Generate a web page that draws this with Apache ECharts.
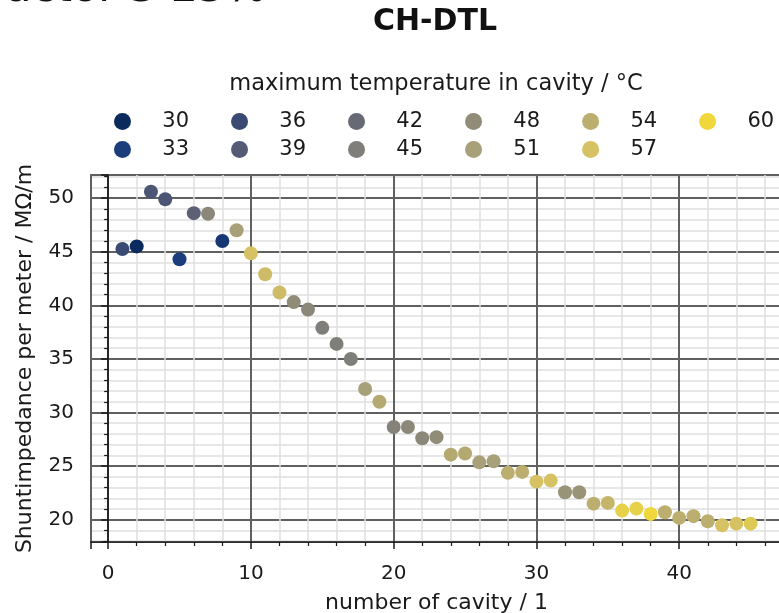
<!DOCTYPE html>
<html>
<head>
    <meta charset="utf-8">
    <title>CH-DTL</title>
    <script src="https://cdn.jsdelivr.net/npm/echarts@6/dist/echarts.min.js"></script>
    <style>
        html, body { margin: 0; padding: 0; background: #fff; }
    </style>
</head>
<body>
    <div id="main" style="width: 779px;height:613px;"></div>

    <script type="text/javascript">
// cavity number, shunt impedance (MOhm/m), max temperature (deg C)
var cavity = [1,2,3,4,5,6,7,8,9,10,11,12,13,14,15,16,17,18,19,20,21,22,23,24,25,26,27,28,29,30,31,32,33,34,35,36,37,38,39,40,41,42,43,44,45];
var impedance = [45.25,45.5,50.6,49.9,44.3,48.6,48.55,46.0,47.0,44.85,42.9,41.2,40.3,39.6,37.9,36.4,35.0,32.2,31.0,28.65,28.65,27.6,27.7,26.07,26.17,25.35,25.45,24.37,24.46,23.55,23.65,22.56,22.56,21.5,21.57,20.85,21.03,20.54,20.69,20.17,20.33,19.85,19.48,19.63,19.63];
var temperature = [36,30,38,38,33,40,47,32,51,57,56,56,48,47,45,45,45,51,53,46,47,47,48,53,53,51,51,54,54,57,57,49,49,54,55,59,59,60,54,54,54,54,57,57,58];

// legend entries (two rows, like the figure)
var legendRow1 = ['30','36','42','48','54','60'];
var legendRow2 = ['33','39','45','51','57'];
var legendTemps = [30,33,36,39,42,45,48,51,54,57,60];
var legendColors = ['#0b2a5e','#1b3d7b','#3b4a73','#555b74','#676a74','#7f7e7a','#918c78','#a8a079','#bcae6f','#d6c263','#f0d83c'];

var txt = '#1a1a1a';
var font = "'DejaVu Sans', sans-serif";

var points = [];
for (var i = 0; i < cavity.length; i++) {
    points.push([cavity[i], impedance[i], temperature[i]]);
}

var series = [{
    name: 'cavities',
    type: 'scatter',
    data: points,
    symbol: 'circle',
    symbolSize: 14,
    itemStyle: { opacity: 1 },
    z: 5
}];
for (var j = 0; j < legendTemps.length; j++) {
    series.push({
        name: String(legendTemps[j]),
        type: 'scatter',
        data: [],
        itemStyle: { color: legendColors[j], opacity: 1 }
    });
}

var legendBase = function (names, top) {
    return {
        data: names,
        orient: 'horizontal',
        left: 114,
        top: top,
        padding: 0,
        icon: 'circle',
        itemWidth: 69.6,
        itemHeight: 17,
        itemGap: 42,
        selectedMode: false,
        itemStyle: { opacity: 1 },
        textStyle: { color: txt, fontSize: 21, fontFamily: font, lineHeight: 21 }
    };
};

var chart = echarts.init(document.getElementById('main'));
chart.setOption({
    backgroundColor: '#ffffff',
    animation: false,
    graphic: [
        {
            type: 'text', x: -10, y: -10,
            style: { text: 'factor 5 25%', font: "43px 'DejaVu Sans'", fill: '#111', align: 'left', verticalAlign: 'middle' }
        },
        {
            type: 'text', x: 435, y: 22,
            style: { text: 'CH-DTL', font: "bold 30px 'DejaVu Sans'", fill: '#111', align: 'center', verticalAlign: 'middle' }
        },
        {
            type: 'text', x: 436, y: 84,
            style: { text: 'maximum temperature in cavity / °C', font: "22.5px 'DejaVu Sans'", fill: txt, align: 'center', verticalAlign: 'middle' }
        }
    ],
    legend: [legendBase(legendRow1, 111), legendBase(legendRow2, 139)],
    visualMap: {
        show: false,
        type: 'continuous',
        seriesIndex: 0,
        dimension: 2,
        min: 30,
        max: 60,
        inRange: { color: legendColors }
    },
    grid: {
        left: 91,
        right: -3,
        top: 175,
        bottom: 71,
        outerBoundsMode: 'none',
        containLabel: false,
        show: true,
        borderColor: '#1a1a1a',
        borderWidth: 1.6,
        backgroundColor: 'transparent'
    },
    xAxis: {
        type: 'value',
        min: -1.2,
        max: 47.2,
        splitNumber: 5,
        name: 'number of cavity / 1',
        nameLocation: 'middle',
        nameGap: 50,
        nameTextStyle: { color: txt, fontSize: 22, fontFamily: font },
        axisLine: { show: true, onZero: false, lineStyle: { color: '#1a1a1a', width: 1.6 } },
        axisTick: { show: true, length: 7, lineStyle: { color: '#1a1a1a', width: 1.5 } },
        minorTick: { show: true, splitNumber: 5, length: 4, lineStyle: { color: '#1a1a1a', width: 1.2 } },
        axisLabel: {
            color: txt, fontSize: 20, fontFamily: font, margin: 22,
            formatter: function (v) { return Math.abs(v % 10) < 1e-6 ? String(v) : ''; }
        },
        splitLine: { show: true, lineStyle: { color: '#606060', width: 2 } },
        minorSplitLine: { show: true, lineStyle: { color: '#e0e0e0', width: 1.5 } }
    },
    yAxis: {
        type: 'value',
        min: 17.92,
        max: 52.16,
        splitNumber: 5,
        name: 'Shuntimpedance per meter / MΩ/m',
        nameLocation: 'middle',
        nameGap: 55,
        nameTextStyle: { color: txt, fontSize: 22, fontFamily: font },
        axisLine: { show: true, lineStyle: { color: '#1a1a1a', width: 1.6 } },
        axisTick: { show: true, length: 7, lineStyle: { color: '#1a1a1a', width: 1.5 } },
        minorTick: { show: true, splitNumber: 5, length: 4, lineStyle: { color: '#1a1a1a', width: 1.2 } },
        axisLabel: {
            color: txt, fontSize: 20, fontFamily: font, margin: 17,
            formatter: function (v) { return Math.abs(v % 5) < 1e-6 ? String(v) : ''; }
        },
        splitLine: { show: true, lineStyle: { color: '#606060', width: 2 } },
        minorSplitLine: { show: true, lineStyle: { color: '#e0e0e0', width: 1.5 } }
    },
    series: series
});
    </script>
</body>
</html>
